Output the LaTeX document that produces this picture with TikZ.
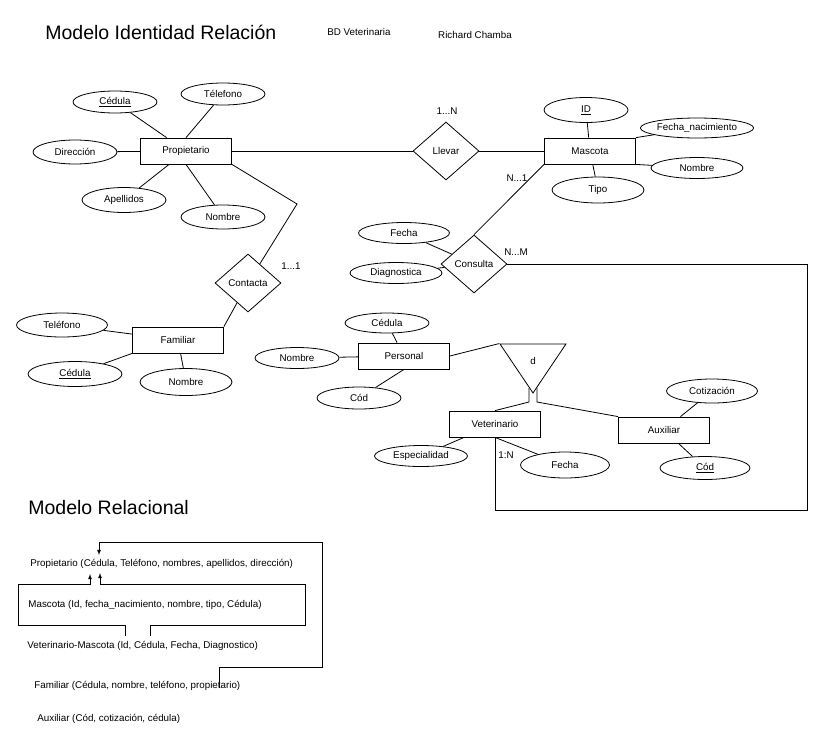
\documentclass[tikz,border=0pt]{standalone}
\usepackage{fontspec}
\setmainfont{Liberation Sans}
\usetikzlibrary{shapes.geometric,arrows}
\tikzset
{
    entity/.style   = {rectangle, draw=black, align=center, minimum width=91pt, minimum height=26pt, font=\fontsize{9.8}{11}\selectfont},
    attrib/.style   = {ellipse, draw=black, align=center, minimum width=84pt, minimum height=22pt, inner sep=0pt, font=\fontsize{9.8}{11}\selectfont},
    relation/.style = {diamond, draw=black, align=center, minimum width=66pt, minimum height=58pt, inner sep=0pt, font=\fontsize{9.8}{11}\selectfont},
    isa/.style      = {isosceles triangle, draw=black, shape border rotate=-90, isosceles triangle stretches, minimum width=66pt, minimum height=49pt, inner sep=0pt, anchor=apex, font=\fontsize{9.8}{11}\selectfont},
    card/.style     = {inner sep=0pt, font=\fontsize{9.8}{11}\selectfont},
    reltext/.style  = {anchor=west, inner sep=0pt, font=\fontsize{9.8}{11}\selectfont},
    title/.style    = {anchor=west, inner sep=0pt, font=\fontsize{19.5}{22}\selectfont}
}

\begin{document}
\begin{tikzpicture}[x=1pt, y=-1pt, line width=0.8pt]
\useasboundingbox (0,0) rectangle (826,739);
\node [title] at (45,32) (t1) {Modelo Identidad Relación};
\node [card] at (359,32) (bd) {BD Veterinaria};
\node [card] at (475,35) (rc) {Richard Chamba};
\node [entity] at (186,151) (prop) {Propietario};
\node [entity] at (590,151) (masc) {Mascota};
\node [entity] at (178,340) (fam) {Familiar};
\node [entity] at (404,356) (pers) {Personal};
\node [entity] at (495,424) (vet) {Veterinario};
\node [entity] at (664,430) (aux) {Auxiliar};
\node [relation] at (446,151) (llev) {Llevar};
\node [relation] at (474,264) (cons) {Consulta};
\node [relation] at (248,283) (cont) {Contacta};
\node [isa] at (533,394) (isa) {\raisebox{-5pt}{d}};
\node [attrib] at (115,102) (pced) {\underline{Cédula}};
\node [attrib] at (223,94) (ptel) {Télefono};
\node [attrib, minimum height=24pt] at (75,152) (pdir) {Dirección};
\node [attrib, minimum height=25pt] at (124,200) (pape) {Apellidos};
\node [attrib, minimum height=24pt] at (223,217) (pnom) {Nombre};
\node [attrib, minimum height=25pt] at (586,110) (mid) {\underline{ID}};
\node [attrib, minimum width=92pt, minimum height=20pt] at (697,128) (mfna) {Fecha\_nacimiento};
\node [attrib, minimum width=92pt, minimum height=21pt] at (697,168) (mnom) {Nombre};
\node [attrib, minimum width=92pt, minimum height=26pt] at (598,190) (mtip) {Tipo};
\node [attrib, minimum width=91pt, minimum height=21pt] at (404,233) (cfec) {Fecha};
\node [attrib, minimum width=92pt, minimum height=21pt] at (396,273) (cdia) {Diagnostica};
\node [attrib, minimum width=91pt, minimum height=24pt] at (62,325) (ftel) {Teléfono};
\node [attrib, minimum width=94pt, minimum height=25pt] at (75,374) (fced) {\underline{Cédula}};
\node [attrib, minimum width=92pt, minimum height=27pt] at (186,382) (fnom) {Nombre};
\node [attrib, minimum height=20pt] at (387,323) (eced) {Cédula};
\node [attrib, minimum height=21pt] at (297,358) (enom) {Nombre};
\node [attrib] at (359,398) (ecod) {Cód};
\node [attrib, minimum width=93pt, minimum height=21pt] at (421,456) (vesp) {Especialidad};
\node [attrib, minimum width=89pt, minimum height=26pt] at (565,465) (vfec) {Fecha};
\node [attrib, minimum width=91pt, minimum height=24pt] at (712,391) (acot) {Cotización};
\node [attrib, minimum width=90pt, minimum height=23pt] at (705,468) (acod) {\underline{Cód}};
\node [card] at (447,111) (k1) {1...N};
\node [card] at (517,178) (k2) {N...1};
\node [card] at (516,252) (k3) {N...M};
\node [card] at (291,266) (k4) {1...1};
\node [card] at (506,455) (k5) {1:N};
\coordinate (pbend) at (297,204);
\coordinate (cbot) at (807,510);
\coordinate (isal) at (529,402);
\coordinate (isar) at (537,402);
\draw (pced) -- (prop);
\draw (ptel) -- (prop.north);
\draw (pdir) -- (prop);
\draw (pape) -- (prop);
\draw (pnom) -- (prop.south);
\draw (prop) -- (llev);
\draw (llev) -- (masc);
\draw (mid) -- (masc);
\draw (mfna) -- (masc.north east);
\draw (mnom) -- (masc.south east);
\draw (mtip) -- (masc);
\draw (masc.south west) -- (cons.north);
\draw (cfec) -- (cons);
\draw (cdia) -- (cons);
\draw (prop.south east) -- (pbend) -- (cont);
\draw (cont) -- (fam.north east);
\draw (ftel) -- (fam);
\draw (fced) -- (fam.south west);
\draw (fnom) -- (fam);
\draw (eced) -- (pers);
\draw (enom) -- (pers);
\draw (ecod) -- (pers.south);
\draw (pers.east) -- (isa.right corner);
\draw (vet.north) -- (isal) -- ++(0,-14);
\draw (aux.north west) -- (isar) -- ++(0,-14);
\draw (vesp) -- (vet);
\draw (vfec) -- (vet.south);
\draw (acot) -- (aux);
\draw (acod) -- (aux);
\draw (cons.east) -| (cbot) -| (vet.south);
\node [title] at (28,508) (t2) {Modelo Relacional};
\node [reltext] at (30,564) (rprop) {Propietario (Cédula, Teléfono, nombres, apellidos, dirección)};
\node [reltext] at (28,605) (rmasc) {Mascota (Id, fecha\_nacimiento, nombre, tipo, Cédula)};
\node [reltext] at (27,646) (rvet) {Veterinario-Mascota (Id, Cédula, Fecha, Diagnostico)};
\node [reltext] at (34,686) (rfam) {Familiar (Cédula, nombre, teléfono, propietario)};
\node [reltext] at (37,719) (raux) {Auxiliar (Cód, cotización, cédula)};
\coordinate (fa) at (219,688);
\coordinate (fb) at (322,542);
\coordinate (fc) at (99,555);
\coordinate (ma) at (125,636);
\coordinate (mb) at (18,584);
\coordinate (mc) at (90,574);
\coordinate (na) at (150,636);
\coordinate (nb) at (305,584);
\coordinate (nc) at (100,573);
\draw [-latex] (fa) -- ++(0,-21) -| (fb) -| (fc);
\draw [-latex] (ma) -- ++(0,-11) -| (mb) -| (mc);
\draw [-latex] (na) -- ++(0,-11) -| (nb) -| (nc);
\end{tikzpicture}
\end{document}
